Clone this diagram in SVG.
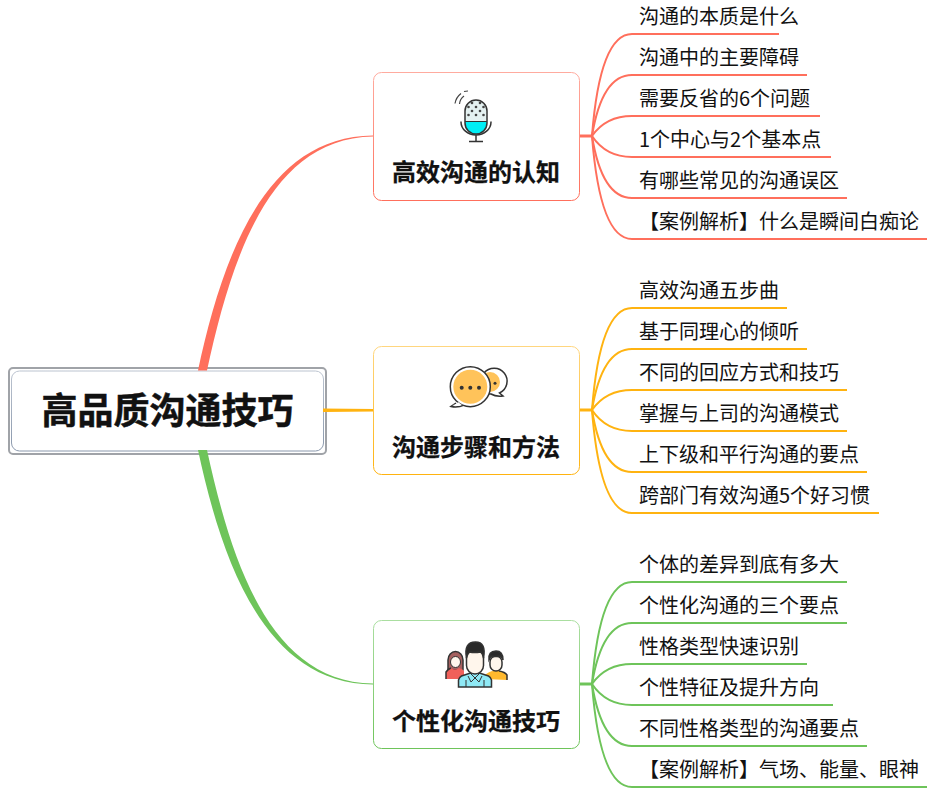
<svg xmlns="http://www.w3.org/2000/svg" width="935" height="791" viewBox="0 0 935 791">
<defs>
<linearGradient id="gr" x1="0" y1="0" x2="0" y2="1"><stop offset="0" stop-color="#ffab9f"/><stop offset="1" stop-color="#ff6f5c"/></linearGradient>
<linearGradient id="go" x1="0" y1="0" x2="0" y2="1"><stop offset="0" stop-color="#ffd67f"/><stop offset="1" stop-color="#ffb310"/></linearGradient>
<linearGradient id="gg" x1="0" y1="0" x2="0" y2="1"><stop offset="0" stop-color="#aadea0"/><stop offset="1" stop-color="#6ec45a"/></linearGradient>
<linearGradient id="gm" x1="0" y1="0" x2="0" y2="1"><stop offset="0" stop-color="#bcc4d0"/><stop offset="1" stop-color="#8a98ac"/></linearGradient>
</defs>
<style>
text{font-family:"Noto Sans CJK SC","Liberation Sans",sans-serif;fill:#111}
.leaf{font-size:20px}
.title{font-size:24px;font-weight:700;text-anchor:middle;stroke:#111;stroke-width:.25}
.main{font-size:36px;font-weight:700;text-anchor:middle;stroke:#111;stroke-width:.5}
.c{fill:none;stroke-width:2}
.s{fill:none;stroke-width:3}
.r{stroke:#ff6f5c}.o{stroke:#ffb310}.g{stroke:#6ec45a}
.box{fill:#fff;stroke-width:1}
.dot{fill:#444}
</style>
<rect width="935" height="791" fill="#fff"/>
<g id="root">
<rect x="9" y="368" width="317" height="86" rx="4" fill="#fff" stroke="#a0a3a8" stroke-width="2"/>
<rect x="11.500" y="371" width="312" height="80" rx="8" fill="#fff" stroke="url(#gm)" stroke-width="1"/>
<text class="main" x="167.500" y="424">高品质沟通技巧</text>
</g>
<g id="connectors">
<path d="M198,370.500C222,258 265,136 373,135.500L373,136.500C269,138 231,260 207,370.500Z" fill="#ff6f5c"/>
<path d="M198,450C222,562 265,684 373,684.500L373,683.500C269,682 231,560 207,450Z" fill="#6ec45a"/>
<path d="M323,408.500L374,409V411.500L323,412Z" fill="#ffb310"/>
<g class="r">
<path class="s" d="M579,136H592"/>
<path class="c" d="M592,136Q600,34 632,34H779"/>
<path class="c" d="M592,136Q602,75 632,75H807"/>
<path class="c" d="M592,136Q606,116 632,116H820"/>
<path class="c" d="M592,136Q606,157 632,157H831"/>
<path class="c" d="M592,136Q602,198 632,198H847"/>
<path class="c" d="M592,136Q600,239 632,239H927"/>
</g>
<g class="o">
<path class="s" d="M579,410H592"/>
<path class="c" d="M592,410Q600,308 632,308H787"/>
<path class="c" d="M592,410Q602,349 632,349H807"/>
<path class="c" d="M592,410Q606,390 632,390H847"/>
<path class="c" d="M592,410Q606,431 632,431H847"/>
<path class="c" d="M592,410Q602,472 632,472H867"/>
<path class="c" d="M592,410Q600,513 632,513H879"/>
</g>
<g class="g">
<path class="s" d="M579,684H592"/>
<path class="c" d="M592,684Q600,582 632,582H847"/>
<path class="c" d="M592,684Q602,623 632,623H847"/>
<path class="c" d="M592,684Q606,664 632,664H807"/>
<path class="c" d="M592,684Q606,705 632,705H833"/>
<path class="c" d="M592,684Q602,746 632,746H867"/>
<path class="c" d="M592,684Q600,787 632,787H927"/>
</g>
</g>
<g id="topic1">
<rect class="box" stroke="url(#gr)" x="373.500" y="72.500" width="206" height="128" rx="8"/>
<g>
<path d="M455,103.500a16,16 0 0 1 6,-10M468,91a16,16 0 0 0 -4,.5M459.500,104a11,11 0 0 1 4.500,-8" fill="none" stroke="#444" stroke-width="1.200"/>
<path d="M465,122V111a11,11 0 0 1 22,0V122Z" fill="#e4f1f1"/>
<path d="M465,122H487V123a11,11 0 0 1 -22,0Z" fill="#00eef5"/>
<rect x="465" y="100" width="22" height="34" rx="11" fill="none" stroke="#333" stroke-width="1.500"/>
<path d="M465,121.500H487" stroke="#333" stroke-width="1"/>
<path d="M461,121.500V122a15,13 0 0 0 30,0V121.500M476,135V141.500M469,141.500H483" fill="none" stroke="#333" stroke-width="1.500"/>
<circle class="dot" cx="472" cy="103" r="1.300"/><circle class="dot" cx="480" cy="103" r="1.300"/>
<circle class="dot" cx="468.500" cy="107" r="1.300"/><circle class="dot" cx="476" cy="107" r="1.300"/><circle class="dot" cx="483.500" cy="107" r="1.300"/>
<circle class="dot" cx="472" cy="111" r="1.300"/><circle class="dot" cx="480" cy="111" r="1.300"/>
<circle class="dot" cx="468.500" cy="115" r="1.300"/><circle class="dot" cx="476" cy="115" r="1.300"/><circle class="dot" cx="483.500" cy="115" r="1.300"/>
</g>
<text class="title" x="476" y="181">高效沟通的认知</text>
</g>
<g id="topic2">
<rect class="box" stroke="url(#go)" x="373.500" y="346.500" width="206" height="128" rx="8"/>
<g>
<path d="M484,373a13,13 0 1 1 15.500,20l3.500,3q-7,1 -12,-2q-6,0 -9,-3Z" fill="#fff" stroke="#333" stroke-width="1.500"/>
<circle cx="490" cy="382" r="10" fill="#ffc35a"/>
<path d="M456,403l-5,3.500q7,1.500 13,-1.500" fill="#fff" stroke="#333" stroke-width="1.500"/>
<circle cx="470.300" cy="386.700" r="20" fill="#fff" stroke="#333" stroke-width="1.500"/>
<path d="M452,405q5,0 6,-3l4,3q-5,2 -10,0Z" fill="#fff"/>
<circle cx="470.300" cy="386.700" r="17" fill="#ffc35a"/>
<circle cx="461.700" cy="387.700" r="2" fill="#333"/><circle cx="470.300" cy="387.700" r="2" fill="#333"/><circle cx="479" cy="387.700" r="2" fill="#333"/><circle cx="495" cy="383.300" r="1.500" fill="#333"/>
</g>
<text class="title" x="476" y="456">沟通步骤和方法</text>
</g>
<g id="topic3">
<rect class="box" stroke="url(#gg)" x="373.500" y="620.500" width="206" height="128" rx="8"/>
<g stroke="#333" stroke-width="1.500">
<path d="M448,670V660a7.500,8.500 0 0 1 15,0V670Z" fill="#a5605f"/>
<path d="M446,679V672q2,-3 5,-4q4,3 8,0q4,1 5,3V679Z" fill="#f0605a" stroke="none"/>
<path d="M446,679V672q2,-3 5,-4" fill="none"/>
<ellipse cx="455.500" cy="662" rx="5" ry="5.500" fill="#fff6ec" stroke-width="1"/>
<path d="M485,679V675q5,-4 8,-4h6q6,1 8,4V680Z" fill="#ffb92e" stroke="none"/>
<path d="M499,671q6,1 8,4V680" fill="none"/>
<rect x="490" y="656" width="12" height="15" rx="6" fill="#fff6ec"/>
<path d="M489,660q-1,-9 7,-9q7,0 7,9q-1,-3 -3,-4q-6,1 -9,0q-1,2 -2,4Z" fill="#2a2a2a"/>
<path d="M458.500,687V680q1,-3 3,-4l9,-3h9l9,3q2,1 3,4V687Z" fill="#8fe9f5"/>
<path d="M470,673l5,5l5,-5M475,678l-4,4l-3,-6M475,678l4,4l3,-6M466,687V680M484,687V680" fill="none" stroke-width="1"/>
<rect x="466.500" y="649" width="17" height="25" rx="8.500" fill="#fff6ec"/>
<path d="M466.500,658q-3,-16 9,-16q11,0 8,16q-1,-5 -3,-6q-6,1 -11,0q-2,2 -3,6Z" fill="#2a2a2a"/>
</g>
<text class="title" x="476" y="730">个性化沟通技巧</text>
</g>
<g id="leaves1">
<text class="leaf" x="639" y="24">沟通的本质是什么</text>
<text class="leaf" x="639" y="65">沟通中的主要障碍</text>
<text class="leaf" x="639" y="106">需要反省的6个问题</text>
<text class="leaf" x="639" y="147">1个中心与2个基本点</text>
<text class="leaf" x="639" y="188">有哪些常见的沟通误区</text>
<text class="leaf" x="639" y="229">【案例解析】什么是瞬间白痴论</text>
</g>
<g id="leaves2">
<text class="leaf" x="639" y="298">高效沟通五步曲</text>
<text class="leaf" x="639" y="339">基于同理心的倾听</text>
<text class="leaf" x="639" y="380">不同的回应方式和技巧</text>
<text class="leaf" x="639" y="421">掌握与上司的沟通模式</text>
<text class="leaf" x="639" y="462">上下级和平行沟通的要点</text>
<text class="leaf" x="639" y="503">跨部门有效沟通5个好习惯</text>
</g>
<g id="leaves3">
<text class="leaf" x="639" y="572">个体的差异到底有多大</text>
<text class="leaf" x="639" y="613">个性化沟通的三个要点</text>
<text class="leaf" x="639" y="654">性格类型快速识别</text>
<text class="leaf" x="639" y="695">个性特征及提升方向</text>
<text class="leaf" x="639" y="736">不同性格类型的沟通要点</text>
<text class="leaf" x="639" y="777">【案例解析】气场、能量、眼神</text>
</g>
</svg>
